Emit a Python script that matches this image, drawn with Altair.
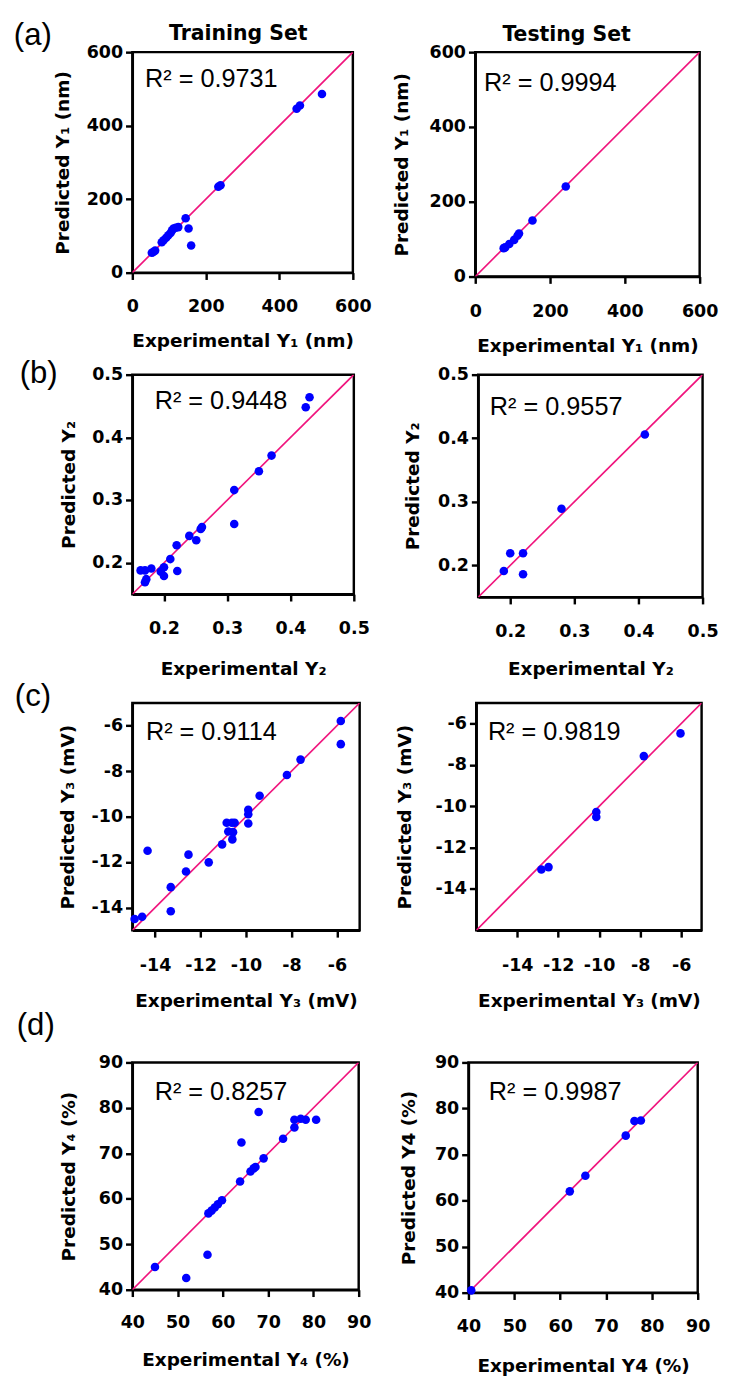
import altair as alt
import pandas as pd

# ---------------- data ----------------
a_train_exp = [53, 57, 62, 80, 85, 92, 98, 104, 108, 112, 118, 125, 145, 153, 160, 234, 240, 447, 456, 516]
a_train_pred = [54, 56, 60, 83, 88, 95, 102, 108, 115, 120, 122, 124, 148, 120, 74, 234, 238, 446, 455, 486]
a_test_exp = [76, 80, 91, 104, 113, 117, 153, 242]
a_test_pred = [76, 78, 87, 98, 109, 115, 150, 241]

b_train_exp = [0.163, 0.170, 0.172, 0.170, 0.180, 0.195, 0.200, 0.200, 0.210, 0.220, 0.221,
               0.240, 0.251, 0.260, 0.258, 0.311, 0.311, 0.350, 0.370, 0.424, 0.430]
b_train_pred = [0.188, 0.188, 0.174, 0.169, 0.191, 0.186, 0.193, 0.179, 0.206, 0.228, 0.187,
                0.243, 0.236, 0.257, 0.254, 0.316, 0.262, 0.346, 0.371, 0.448, 0.464]
b_test_exp = [0.19, 0.20, 0.22, 0.22, 0.28, 0.41]
b_test_pred = [0.191, 0.219, 0.219, 0.186, 0.289, 0.406]

c_train_exp = [-14.9, -14.57, -14.33, -13.31, -13.31, -12.64, -12.53, -11.64, -11.05, -10.85, -10.62,
               -10.5, -10.78, -10.57, -10.6, -9.9, -9.9, -9.9, -9.4, -8.2, -7.6, -5.83, -5.83]
c_train_pred = [-14.5, -14.4, -11.5, -13.1, -14.16, -12.41, -11.67, -12.01, -11.22, -10.27, -10.27,
                -10.27, -10.65, -10.68, -11.0, -9.7, -9.89, -10.3, -9.08, -8.17, -7.49, -5.79, -6.81]
c_test_exp = [-12.82, -12.47, -10.14, -10.14, -7.82, -6.03]
c_test_pred = [-13.06, -12.94, -10.27, -10.52, -7.57, -6.47]

d_train_exp = [45.0, 51.9, 56.6, 56.8, 57.5, 58.2, 58.9, 59.8, 63.8, 64.1, 66.1, 66.8, 67.2,
               67.9, 69.0, 73.3, 75.8, 75.8, 77.2, 78.3, 80.6]
d_train_pred = [45.0, 42.6, 47.7, 56.8, 57.4, 58.1, 58.8, 59.7, 63.8, 72.4, 66.0, 66.7, 67.0,
                79.1, 68.9, 73.2, 75.7, 77.4, 77.6, 77.4, 77.4]
d_test_exp = [40.6, 62.1, 65.5, 74.3, 76.2, 77.6]
d_test_pred = [40.5, 62.0, 65.4, 74.1, 77.3, 77.4]

r2_values = ["0.9731", "0.9994", "0.9448", "0.9557", "0.9114", "0.9819", "0.8257", "0.9987"]
ticks_a = [0, 200, 400, 600]
ticks_b = [0.2, 0.3, 0.4, 0.5]
ticks_c = [-14, -12, -10, -8, -6]
ticks_d = [40, 50, 60, 70, 80, 90]

BLUE = "#0000FF"
PINK = "#F0147D"
BOLD_FONT = "DejaVu Sans"
REG_FONT = "Liberation Sans"


def panel(exp, pred, lo, hi, ticks, w, h, xtitle, ytitle, r2, r2pos,
          xlp, xtp, ytp, label=None, labelpos=None, ghost=None, settitle=None, setpos=None):
    pts = pd.DataFrame({"x": exp, "y": pred})
    diag = pd.DataFrame({"x": [lo, hi], "y": [lo, hi]})
    one = pd.DataFrame({"k": [0]})
    xs = alt.Scale(domain=[lo, hi], nice=False, zero=False)
    ys = alt.Scale(domain=[lo, hi], nice=False, zero=False)
    xax = alt.Axis(values=ticks, title=xtitle, titlePadding=xtp, labelPadding=xlp,
                   labelExpr="'' + datum.value")
    yax = alt.Axis(values=ticks, title=ytitle, titlePadding=ytp, labelPadding=3,
                   labelExpr="'' + datum.value")
    line = alt.Chart(diag).mark_line(color=PINK, strokeWidth=1.7, clip=True).encode(
        x=alt.X("x:Q", scale=xs, axis=xax), y=alt.Y("y:Q", scale=ys, axis=yax))
    dots = alt.Chart(pts).mark_circle(size=78, color=BLUE, opacity=1).encode(
        x=alt.X("x:Q", scale=xs), y=alt.Y("y:Q", scale=ys))
    r2t = alt.Chart(one).mark_text(align="left", baseline="alphabetic", font=REG_FONT,
                                   fontSize=26, color="black").encode(
        x=alt.value(r2pos[0]), y=alt.value(r2pos[1]), text=alt.value("R² = " + r2))
    layers = [line, dots, r2t]
    if label is not None:
        layers.append(alt.Chart(one).mark_text(align="left", baseline="middle", font=REG_FONT,
                                               fontSize=32, color="black").encode(
            x=alt.value(labelpos[0]), y=alt.value(labelpos[1]), text=alt.value(label)))
    if ghost is not None:
        layers.append(alt.Chart(one).mark_text(align="left", baseline="middle", font=REG_FONT,
                                               fontSize=32, color="white", opacity=0).encode(
            x=alt.value(10), y=alt.value(ghost), text=alt.value("(x)")))
    if settitle is not None:
        layers.append(alt.Chart(one).mark_text(align="center", baseline="middle", font=BOLD_FONT,
                                               fontWeight="bold", fontSize=21, color="black").encode(
            x=alt.value(setpos[0]), y=alt.value(setpos[1]), text=alt.value(settitle)))
    return alt.layer(*layers).properties(width=w, height=h)


a1 = panel(a_train_exp, a_train_pred, 0, 600, ticks_a, 227, 227, "Experimental Y₁ (nm)",
           "Predicted Y₁ (nm)", r2_values[0], (13, 36), 19, 17, 14,
           label="(a)", labelpos=(-122, -17), settitle="Training Set", setpos=(109, -19))
a2 = panel(a_test_exp, a_test_pred, 0, 600, ticks_a, 231, 231, "Experimental Y₁ (nm)",
           "Predicted Y₁ (nm)", r2_values[1], (9, 40), 20, 17, 18,
           ghost=-17, settitle="Testing Set", setpos=(94, -18))
b1 = panel(b_train_exp, b_train_pred, 0.15, 0.5, ticks_b, 228, 226, "Experimental Y₂",
           "Predicted Y₂", r2_values[2], (23, 35), 19, 24, 14,
           label="(b)", labelpos=(-116, -1))
b2 = panel(b_test_exp, b_test_pred, 0.15, 0.5, ticks_b, 231, 229, "Experimental Y₂",
           "Predicted Y₂", r2_values[3], (12, 41), 20, 20, 16, ghost=-1)
c1 = panel(c_train_exp, c_train_pred, -15, -5, ticks_c, 234, 234, "Experimental Y₃ (mV)",
           "Predicted Y₃ (mV)", r2_values[4], (14, 38), 20, 18, 14,
           label="(c)", labelpos=(-121, -7))
c2 = panel(c_test_exp, c_test_pred, -16, -5, ticks_c, 232, 234, "Experimental Y₃ (mV)",
           "Predicted Y₃ (mV)", r2_values[5], (12, 38), 20, 18, 21, ghost=-7)
d1 = panel(d_train_exp, d_train_pred, 40, 90, ticks_d, 233, 234, "Experimental Y₄ (%)",
           "Predicted Y₄ (%)", r2_values[6], (23, 39), 18, 20, 20,
           label="(d)", labelpos=(-119, -38))
d2 = panel(d_test_exp, d_test_pred, 40, 90, ticks_d, 236, 237, "Experimental Y4 (%)",
           "Predicted Y4 (%)", r2_values[7], (21, 39), 19, 22, 16, ghost=-38)

row_a = alt.hconcat(a1, a2, spacing=19)
row_b = alt.hconcat(b1, b2, spacing=31)
row_c = alt.hconcat(c1, c2, spacing=34)
row_d = alt.hconcat(d1, d2, spacing=27)

ab = alt.vconcat(row_a, row_b, spacing=-1)
abc = alt.vconcat(ab, row_c, spacing=-2)
chart = alt.vconcat(abc, row_d, spacing=-4).properties(
    padding={"left": 4, "top": -10, "right": 2, "bottom": 2},
    background="white"
).configure_view(
    stroke="black", strokeWidth=2.5
).configure_axis(
    grid=False, domainColor="black", domainWidth=2.5, tickColor="black", tickWidth=2.5,
    tickSize=7, labelFont=BOLD_FONT, labelFontWeight="bold", labelFontSize=18,
    labelColor="black", titleFont=BOLD_FONT, titleFontWeight="bold", titleFontSize=19,
    titleColor="black", labelFlush=False, labelOverlap=False
)

chart.save("out.html", embed_options={"renderer": "svg", "actions": False})
